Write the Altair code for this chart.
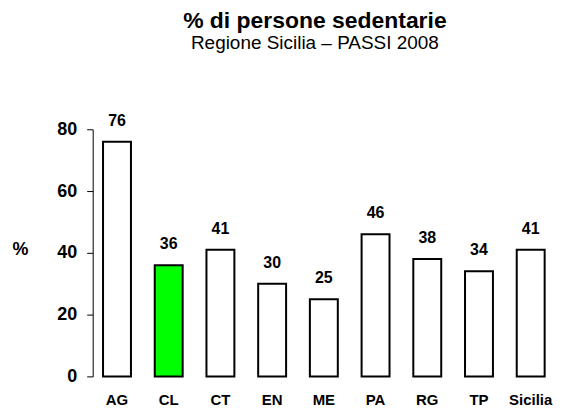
import altair as alt
import pandas as pd

categories = ["AG", "CL", "CT", "EN", "ME", "PA", "RG", "TP", "Sicilia"]
values = [76, 36, 41, 30, 25, 46, 38, 34, 41]
highlight_category = "CL"

df = pd.DataFrame({"cat": categories, "val": values})

FONT = "Liberation Sans"

x = alt.X(
    "cat:N",
    sort=categories,
    title=None,
    scale=alt.Scale(paddingInner=0.46, paddingOuter=0.2),
    axis=alt.Axis(
        domain=False, ticks=False, labelAngle=0, labelFont=FONT,
        labelFontSize=15, labelFontWeight="bold", labelColor="black",
        labelPadding=16,
    ),
)
y = alt.Y(
    "val:Q",
    title="%",
    scale=alt.Scale(domain=[0, 80], nice=False),
    axis=alt.Axis(
        values=[0, 20, 40, 60, 80], grid=False, domainColor="black",
        tickColor="black", tickSize=6, labelFont=FONT, labelFontSize=18,
        labelFontWeight="bold", labelColor="black", labelPadding=10,
        titleAngle=0, titleX=-73, titleY=121, titleAlign="center",
        titleBaseline="middle", titleFont=FONT, titleFontSize=18,
        titleFontWeight="bold", titleColor="black",
    ),
)

bars = alt.Chart(df).mark_bar(stroke="black", strokeWidth=2).encode(
    x=x,
    y=y,
    fill=alt.condition(alt.datum.cat == highlight_category,
                       alt.value("#00FF00"), alt.value("white")),
)

labels = alt.Chart(df).mark_text(
    font=FONT, fontSize=16, fontWeight="bold", color="black",
    baseline="alphabetic", dy=-16,
).encode(x=alt.X("cat:N", sort=categories), y="val:Q", text="val:Q")

chart = (bars + labels).properties(
    width=464,
    height=248,
    autosize=alt.AutoSizeParams(type="none"),
    padding={"left": 85, "top": 121, "right": 0, "bottom": 31},
    title=alt.TitleParams(
        text="% di persone sedentarie",
        subtitle="Regione Sicilia – PASSI 2008",
        font=FONT, fontSize=23, fontWeight="bold", color="black",
        subtitleFont=FONT, subtitleFontSize=19, subtitleColor="black",
        subtitlePadding=1, anchor="middle", dx=-9, offset=60,
    ),
).configure_view(stroke=None)

chart.save("out.html", embed_options={"renderer": "svg", "actions": False})
